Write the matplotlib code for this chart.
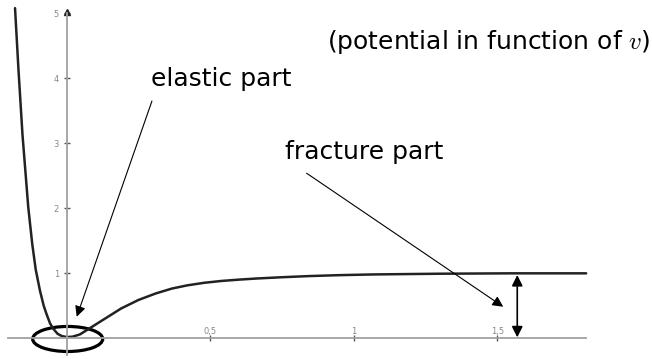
import matplotlib
matplotlib.use('Agg')
import matplotlib.pyplot as plt
from matplotlib.patches import Ellipse

# potential curve
v = [-0.180, -0.168, -0.154, -0.134, -0.120, -0.108, -0.093, -0.080, -0.070,
	-0.058, -0.047, -0.032, -0.017, 0.000, 0.020, 0.046, 0.075, 0.100, 0.136,
	0.190, 0.250, 0.310, 0.366, 0.420, 0.480, 0.540, 0.600, 0.660, 0.750,
	0.840, 0.950, 1.070, 1.300, 1.550, 1.810]
pot = [5.08, 4.13, 3.13, 2.02, 1.45, 1.06, 0.73, 0.50, 0.37,
	0.23, 0.15, 0.07, 0.035, 0.02, 0.025, 0.06, 0.14, 0.21, 0.31,
	0.46, 0.59, 0.69, 0.765, 0.815, 0.855, 0.883, 0.903, 0.92, 0.94,
	0.957, 0.972, 0.983, 0.994, 1.0, 1.0]

xticks = [0.5, 1.0, 1.5]
xtick_labels = ['0,5', '1', '1,5']
yticks = [1, 2, 3, 4, 5]
ytick_labels = ['1', '2', '3', '4', '5']

plt.rcParams['font.family'] = ['DejaVu Sans']
plt.rcParams['mathtext.fontset'] = 'cm'

fig = plt.figure(figsize=(6.52, 3.59), dpi=100)
ax = fig.add_axes([0, 0, 1, 1])
ax.set_xlim(-0.2324, 2.0395)
ax.set_ylim(-0.318, 5.205)

axis_col = '#a0a0a0'
for side in ['top', 'right']:
	ax.spines[side].set_visible(False)
ax.spines['left'].set_position(('data', 0))
ax.spines['bottom'].set_position(('data', 0))
ax.spines['left'].set_bounds(-0.255, 5.0)
ax.spines['bottom'].set_bounds(-0.205, 1.81)
for side in ['left', 'bottom']:
	ax.spines[side].set_color(axis_col)
	ax.spines[side].set_linewidth(1.3)

ax.set_xticks(xticks, labels=xtick_labels)
ax.set_yticks(yticks, labels=ytick_labels)
ax.tick_params(axis='both', direction='inout', length=5, width=1, colors='#555555',
	labelsize=6, labelcolor='#888888')
ax.tick_params(axis='x', pad=-10.9)
ax.tick_params(axis='y', pad=3)

# arrow at the top of the y axis
ax.plot([0], [5.02], marker='^', ms=5, color='#222222', clip_on=False)

ax.plot(v, pot, color='#222222', lw=1.8, solid_capstyle='round')

ax.add_patch(Ellipse((0.0035, -0.01), 0.244, 0.385, fill=False, ec='black', lw=2.3))

ax.text(0.906, 4.45, '(potential in function of $v$)', fontsize=18, va='baseline')

ax.annotate('', xy=(0.035, 0.332), xytext=(0.297, 3.65),
	arrowprops=dict(arrowstyle='-|>', color='black', lw=0.8, mutation_scale=16, shrinkA=0, shrinkB=0))
ax.text(0.293, 3.886, 'elastic part', fontsize=18, va='baseline')

ax.annotate('', xy=(1.521, 0.486), xytext=(0.836, 2.54),
	arrowprops=dict(arrowstyle='-|>', color='black', lw=0.8, mutation_scale=16, shrinkA=0, shrinkB=0))
ax.text(0.761, 2.758, 'fracture part', fontsize=18, va='baseline')

ax.annotate('', xy=(1.570, 0.974), xytext=(1.570, 0.015),
	arrowprops=dict(arrowstyle='<|-|>', color='black', lw=1.2, mutation_scale=16, shrinkA=0, shrinkB=0))

fig.savefig('out.png', dpi=100)
